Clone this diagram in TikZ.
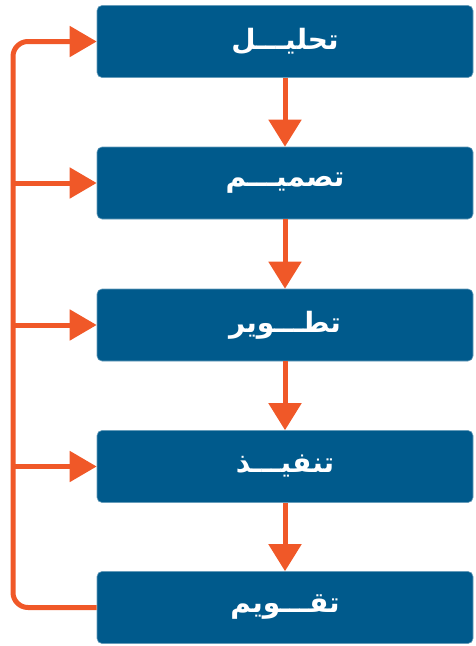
\documentclass[tikz,border=0pt]{standalone}
\usepackage{fontspec}
\TeXXeTstate=1
\newfontfamily\arabicfont[Script=Arabic]{DejaVu Sans}
\usetikzlibrary{arrows.meta}
\definecolor{boxblue}{RGB}{0,90,140}
\definecolor{arrorange}{RGB}{240,88,40}
\tikzset{
  stepbox/.style={fill=boxblue, draw=boxblue!60!white, line width=0.6pt, rounded corners=5pt,
    minimum width=376pt, minimum height=72pt, inner sep=0pt,
    text=white, font=\arabicfont\bfseries\fontsize{28}{32}\selectfont},
  flow/.style={draw=arrorange, line width=5pt},
  vtip/.style={-{Triangle[length=27pt,width=32pt]}},
  htip/.style={-{Triangle[length=27pt,width=30pt]}}
}
\begin{document}
\begin{tikzpicture}[x=1pt,y=1pt]
\useasboundingbox (0,0) rectangle (475,-646);
\node[stepbox] (b1) at (285,-41.5) {\beginR تحليـــل\endR};
\node[stepbox] (b2) at (285,-183) {\beginR تصميـــم\endR};
\node[stepbox] (b3) at (285,-325) {\beginR تطـــوير\endR};
\node[stepbox] (b4) at (285,-466.5) {\beginR تنفيـــذ\endR};
\node[stepbox] (b5) at (285,-607.5) {\beginR تقـــويم\endR};
\foreach \a/\b in {b1/b2,b2/b3,b3/b4,b4/b5}
  \draw[flow, vtip] (\a.south) -- (\b.north);
\coordinate (c1) at (13,-41.5);
\coordinate (c2) at (13,-183);
\coordinate (c3) at (13,-325);
\coordinate (c4) at (13,-466.5);
\coordinate (c5) at (13,-607.5);
\draw[flow, htip, rounded corners=15pt] (b5.west) -- (c5) -- (c1) -- (b1.west);
\foreach \c/\b in {c2/b2,c3/b3,c4/b4}
  \draw[flow, htip] (\c) -- (\b.west);
\end{tikzpicture}
\end{document}
